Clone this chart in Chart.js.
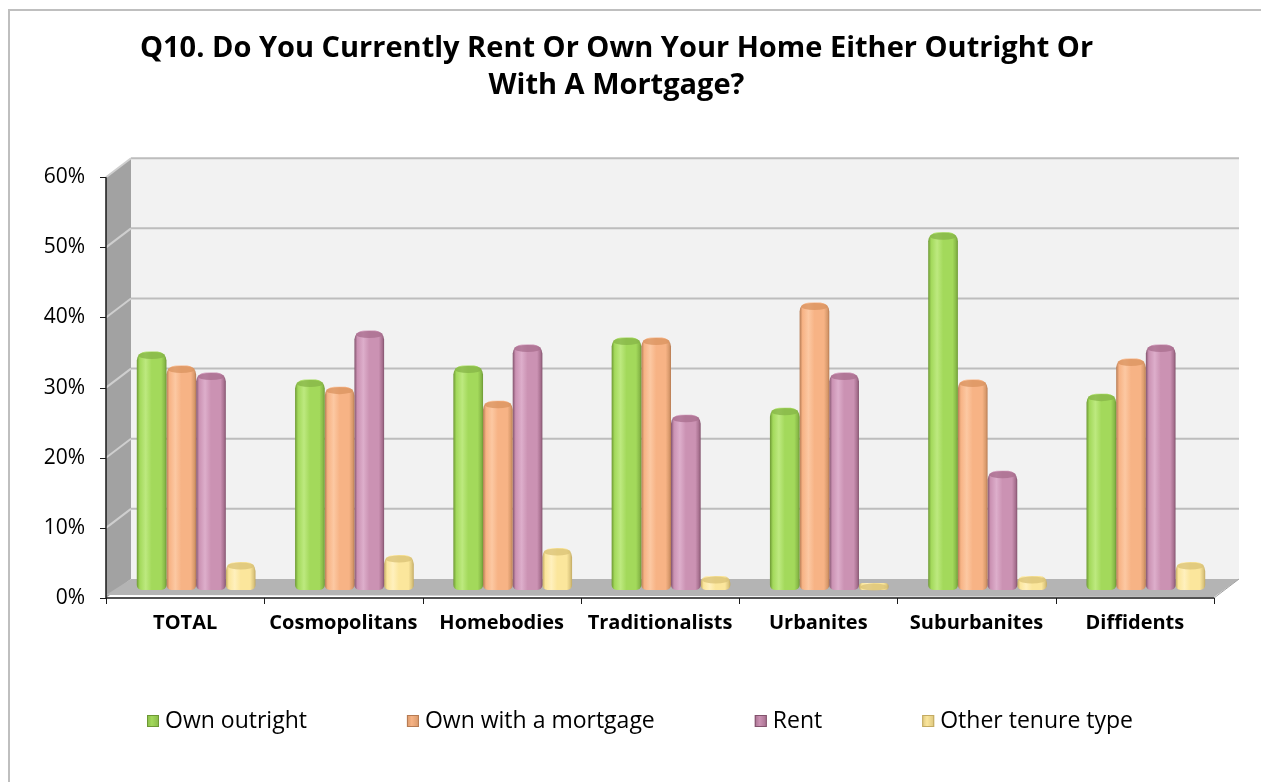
<!DOCTYPE html>
<html>
<head>
<meta charset="utf-8">
<script src="https://cdn.jsdelivr.net/npm/chart.js@4.4.1/dist/chart.umd.min.js"></script>
<style>
  html, body { margin: 0; padding: 0; background: #fff; }
  #wrap { width: 1261px; height: 782px; }
</style>
</head>
<body>
<div id="wrap"><canvas id="myChart" width="1261" height="782"></canvas></div>
<script>
const categories = ['TOTAL', 'Cosmopolitans', 'Homebodies', 'Traditionalists', 'Urbanites', 'Suburbanites', 'Diffidents'];
const ownOutright = [34, 30, 32, 36, 26, 51, 28];
const ownMortgage = [32, 29, 27, 36, 41, 30, 33];
const rent = [31, 37, 35, 25, 31, 17, 35];
const otherTenure = [4, 5, 6, 2, 1, 2, 4];
const seriesNames = ['Own outright', 'Own with a mortgage', 'Rent', 'Other tenure type'];
const yTicks = [0, 10, 20, 30, 40, 50, 60];

const FONT = "'Open Sans', 'DejaVu Sans', sans-serif";

// shades for each series: edge, dark, mid, light, top
const palette = [
    { edge: '#6d9834', dark: '#88b948', mid: '#a3d95b', light: '#bde97f', top: '#86b447' },
    { edge: '#b67b53', dark: '#d8996b', mid: '#f7b385', light: '#fcc8a2', top: '#d9935f' },
    { edge: '#82536d', dark: '#a7708f', mid: '#cb92b3', light: '#ddaecb', top: '#a86d8e' },
    { edge: '#c3aa62', dark: '#dcc67e', mid: '#fbe69c', light: '#fff0bd', top: '#d9c175' }
];

// depth offsets of the back wall and front axes relative to the bar plane
const depth = { back: { dx: 14, dy: -11 }, front: { dx: -11, dy: 8 } };

function barFill(i) {
    const c = palette[i];
    return function (ctx) {
        const chart = ctx.chart;
        const x = chart.scales.x;
        if (!x || !chart.chartArea) return c.mid;
        const catW = (x.right - x.left) / categories.length;
        const groupW = catW * 0.75;
        const barW = groupW / 4;
        const left = x.getPixelForValue(ctx.dataIndex) - groupW / 2 + barW * ctx.datasetIndex;
        const g = chart.ctx.createLinearGradient(left, 0, left + barW, 0);
        g.addColorStop(0, c.edge);
        g.addColorStop(0.1, c.mid);
        g.addColorStop(0.3, c.light);
        g.addColorStop(0.5, c.mid);
        g.addColorStop(0.82, c.mid);
        g.addColorStop(0.94, c.dark);
        g.addColorStop(1, c.edge);
        return g;
    };
}

function poly(ctx, pts) {
    ctx.beginPath();
    ctx.moveTo(pts[0][0], pts[0][1]);
    for (let i = 1; i < pts.length; i++) ctx.lineTo(pts[i][0], pts[i][1]);
    ctx.closePath();
    ctx.fill();
}

const wallPlugin = {
    id: 'walls',
    beforeDraw(chart) {
        const ctx = chart.ctx;
        ctx.save();
        ctx.fillStyle = '#fff';
        ctx.fillRect(0, 0, chart.width, chart.height);
        ctx.fillStyle = '#bfbfbf';
        ctx.fillRect(8, 9, chart.width, 2);
        ctx.fillRect(8, 9, 2, chart.height);
        ctx.restore();
    },
    beforeDatasetsDraw(chart) {
        const { ctx, scales: { x, y } } = chart;
        const L = x.left, R = x.right;
        const y0 = y.getPixelForValue(0), yTop = y.getPixelForValue(60);
        const b = depth.back, f = depth.front;
        ctx.save();
        ctx.fillStyle = '#f2f2f2';
        ctx.fillRect(L + b.dx, yTop + b.dy, R - L, y0 - yTop);
        ctx.fillStyle = '#a2a2a2';
        poly(ctx, [[L + f.dx, yTop + f.dy], [L + b.dx, yTop + b.dy], [L + b.dx, y0 + b.dy], [L + f.dx, y0 + f.dy]]);
        ctx.fillStyle = '#b4b4b4';
        poly(ctx, [[L + f.dx, y0 + f.dy - 3], [L + b.dx, y0 + b.dy], [R + b.dx, y0 + b.dy], [R + f.dx, y0 + f.dy - 1]]);

        yTicks.forEach(v => {
            if (v === 0) return;
            const py = y.getPixelForValue(v);
            ctx.strokeStyle = '#bdbdbd';
            ctx.lineWidth = 2;
            ctx.beginPath();
            ctx.moveTo(L + b.dx, py + b.dy);
            ctx.lineTo(R + b.dx, py + b.dy);
            ctx.stroke();
            ctx.strokeStyle = '#cfcfcf';
            ctx.beginPath();
            ctx.moveTo(L + f.dx, py + f.dy);
            ctx.lineTo(L + b.dx, py + b.dy);
            ctx.stroke();
        });
        // right edge of the floor
        ctx.strokeStyle = '#a0a0a0';
        ctx.lineWidth = 1;
        ctx.beginPath();
        ctx.moveTo(R + f.dx, y0 + f.dy);
        ctx.lineTo(R + b.dx, y0 + b.dy);
        ctx.stroke();

        // front axes
        ctx.strokeStyle = '#1a1a1a';
        ctx.lineWidth = 1.5;
        ctx.beginPath();
        ctx.moveTo(L + f.dx, yTop + f.dy);
        ctx.lineTo(L + f.dx, y0 + f.dy);
        ctx.lineTo(R + f.dx, y0 + f.dy);
        ctx.stroke();
        ctx.lineWidth = 1;
        yTicks.forEach(v => {
            const py = Math.round(y.getPixelForValue(v) + f.dy) + 0.5;
            ctx.beginPath();
            ctx.moveTo(L + f.dx - 6, py);
            ctx.lineTo(L + f.dx, py);
            ctx.stroke();
        });
        const catW = (R - L) / categories.length;
        for (let i = 0; i <= categories.length; i++) {
            const px = Math.round(L + f.dx + i * catW) + 0.5;
            ctx.beginPath();
            ctx.moveTo(px, y0 + f.dy);
            ctx.lineTo(px, y0 + f.dy + 6);
            ctx.stroke();
        }
        ctx.restore();
    },
    afterDatasetsDraw(chart) {
        const ctx = chart.ctx;
        ctx.save();
        chart.data.datasets.forEach((ds, di) => {
            const meta = chart.getDatasetMeta(di);
            meta.data.forEach(el => {
                const { x, y, width } = el.getProps(['x', 'y', 'width'], true);
                ctx.fillStyle = palette[di].top;
                ctx.globalAlpha = 0.75;
                ctx.beginPath();
                ctx.ellipse(x, y + 4, width / 2 - 1.5, 3.5, 0, 0, Math.PI * 2);
                ctx.fill();
            });
        });
        ctx.restore();
    },
    afterDraw(chart) {
        const ctx = chart.ctx;
        ctx.save();
        ctx.font = '23px ' + FONT;
        ctx.textBaseline = 'middle';
        const box = 12, gapText = 6, gapItem = 100;
        let cx = 147;
        const cy = 721;
        chart.data.datasets.forEach((ds, i) => {
            const c = palette[i];
            const g = ctx.createLinearGradient(cx, 0, cx + box, 0);
            g.addColorStop(0, c.dark);
            g.addColorStop(0.4, c.mid);
            g.addColorStop(1, c.dark);
            ctx.fillStyle = g;
            ctx.fillRect(cx, cy - box / 2, box, box);
            ctx.strokeStyle = c.edge;
            ctx.lineWidth = 1;
            ctx.strokeRect(cx + 0.5, cy - box / 2 + 0.5, box - 1, box - 1);
            ctx.fillStyle = '#000';
            ctx.fillText(ds.label, cx + box + gapText, cy);
            cx += box + gapText + ctx.measureText(ds.label).width + gapItem;
        });
        ctx.restore();
    }
};

const seriesData = [ownOutright, ownMortgage, rent, otherTenure];

const chart = new Chart(document.getElementById('myChart'), {
    type: 'bar',
    data: {
        labels: categories,
        datasets: seriesData.map((values, i) => ({
            label: seriesNames[i],
            data: values,
            backgroundColor: barFill(i),
            borderWidth: 0,
            borderSkipped: false,
            borderRadius: { topLeft: 9, topRight: 9, bottomLeft: 5, bottomRight: 5 },
            categoryPercentage: 0.75,
            barPercentage: 1
        }))
    },
    options: {
        responsive: false,
        devicePixelRatio: 1,
        animation: false,
        layout: { padding: { left: 8, right: 36, top: 0, bottom: 132 } },
        plugins: {
            legend: { display: false },
            tooltip: { enabled: false },
            title: {
                display: true,
                text: ['Q10. Do You Currently Rent Or Own Your Home Either Outright Or', 'With A Mortgage?'],
                color: '#000',
                font: { family: FONT, size: 29, weight: 'bold', lineHeight: 1.28 },
                padding: { top: 30, bottom: 65 }
            }
        },
        scales: {
            x: {
                grid: { display: false, drawTicks: false },
                border: { display: false },
                ticks: {
                    color: '#000',
                    font: { family: FONT, size: 20, weight: 'bold' },
                    padding: 21,
                    labelOffset: -11,
                    maxRotation: 0,
                    autoSkip: false
                },
                afterFit(scale) { scale.height = 60; }
            },
            y: {
                min: 0,
                max: 60,
                grid: { display: false, drawTicks: false },
                border: { display: false },
                ticks: {
                    stepSize: 10,
                    color: '#000',
                    font: { family: FONT, size: 21 },
                    padding: 32,
                    labelOffset: 8,
                    callback: v => v + '%'
                },
                afterFit(scale) { scale.width = 109; }
            }
        }
    },
    plugins: [wallPlugin]
});
</script>
</body>
</html>
